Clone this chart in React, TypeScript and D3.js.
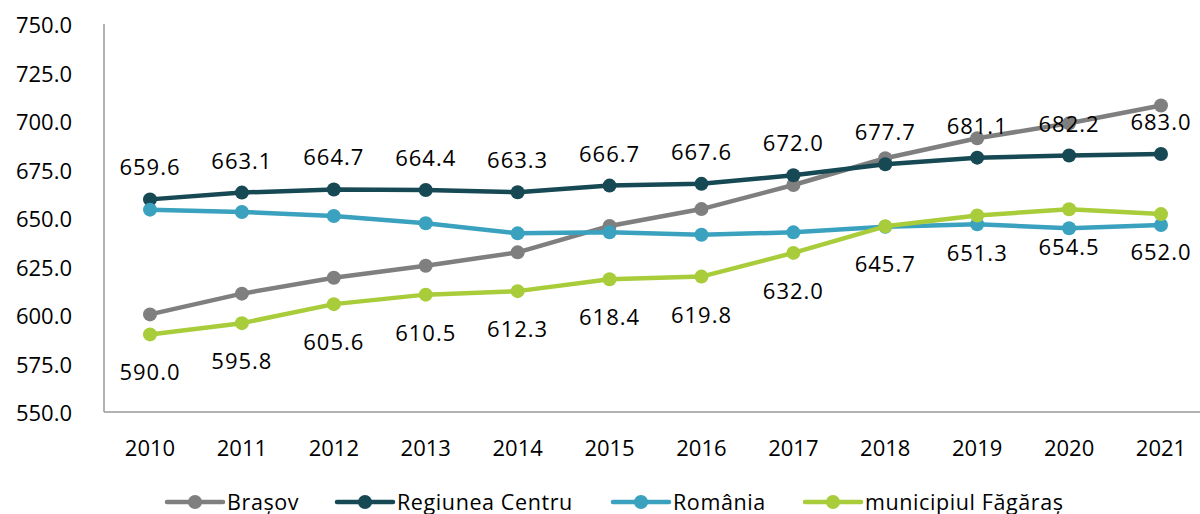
import React from "react";
import * as d3 from "d3";

const years = ["2010","2011","2012","2013","2014","2015","2016","2017","2018","2019","2020","2021"];
const brasov = [600.3, 611.0, 619.2, 625.4, 632.3, 645.9, 654.6, 667.0, 680.8, 691.1, 698.8, 708.0];
const centru = [659.6, 663.1, 664.7, 664.4, 663.3, 666.7, 667.6, 672.0, 677.7, 681.1, 682.2, 683.0];
const romania = [654.3, 653.1, 651.0, 647.3, 642.1, 642.6, 641.4, 642.6, 645.5, 646.8, 644.7, 646.4];
const fagaras = [590.0, 595.8, 605.6, 610.5, 612.3, 618.4, 619.8, 632.0, 645.7, 651.3, 654.5, 652.0];
const yTicks = [550, 575, 600, 625, 650, 675, 700, 725, 750];

const seriesNames = ["Brașov", "Regiunea Centru", "România", "municipiul Făgăraș"];
const seriesColors = ["#7f7f7f", "#164954", "#3aa1bf", "#a9cc3a"];
const seriesValues = [brasov, centru, romania, fagaras];

export default function App() {
  const W = 1200, H = 514;
  const x = d3.scalePoint<string>().domain(years).range([150, 1161]);
  const y = d3.scaleLinear().domain([550, 750]).range([412, 24]);
  const line = d3.line<number>().x((_, i) => x(years[i]) as number).y((d) => y(d));
  const font = "'Open Sans', sans-serif";
  const legendX = [167, 337, 613, 805];

  return (
    <svg width={W} height={H} style={{ position: "absolute", left: 0, top: 0, background: "#fff" }} fontFamily={font}>
      {/* axes */}
      <line x1={104} x2={104} y1={y(750)} y2={y(550)} stroke="#999" strokeWidth={1.5} />
      <line x1={104} x2={W} y1={y(550)} y2={y(550)} stroke="#999" strokeWidth={1.5} />
      {yTicks.map((t) => (
        <text key={t} x={72} y={y(t)} textAnchor="end" dominantBaseline="central" fontSize={22} fill="#000">
          {t.toFixed(1)}
        </text>
      ))}
      {years.map((yr) => (
        <text key={yr} x={x(yr)} y={447} textAnchor="middle" dominantBaseline="central" fontSize={22} fill="#000">
          {yr}
        </text>
      ))}
      {/* series */}
      {seriesValues.map((vals, si) => (
        <g key={si}>
          <path d={line(vals) || ""} fill="none" stroke={seriesColors[si]} strokeWidth={4.5} strokeLinejoin="round" />
          {vals.map((v, i) => (
            <circle key={i} cx={x(years[i])} cy={y(v)} r={7} fill={seriesColors[si]} />
          ))}
        </g>
      ))}
      {/* data labels */}
      {centru.map((v, i) => (
        <text key={"c" + i} x={x(years[i])} y={y(v) - 33} textAnchor="middle" dominantBaseline="central" fontSize={22} letterSpacing={1} fill="#000">
          {v.toFixed(1)}
        </text>
      ))}
      {fagaras.map((v, i) => (
        <text key={"f" + i} x={x(years[i])} y={y(v) + 37} textAnchor="middle" dominantBaseline="central" fontSize={22} letterSpacing={1} fill="#000">
          {v.toFixed(1)}
        </text>
      ))}
      {/* legend */}
      {seriesNames.map((name, i) => (
        <g key={name} transform={`translate(${legendX[i]},502)`}>
          <line x1={0} x2={56} y1={0} y2={0} stroke={seriesColors[i]} strokeWidth={4.5} strokeLinecap="round" />
          <circle cx={28} cy={0} r={7} fill={seriesColors[i]} />
          <text x={60} y={-1} dominantBaseline="central" fontSize={21.5} letterSpacing={0.6} fill="#000">{name}</text>
        </g>
      ))}
    </svg>
  );
}
